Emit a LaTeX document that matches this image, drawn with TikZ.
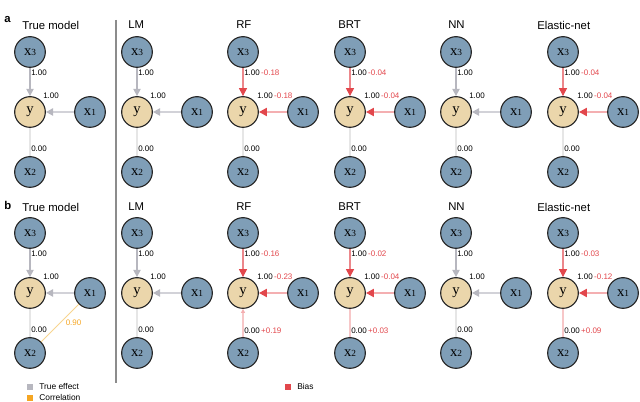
\documentclass[tikz,border=0pt]{standalone}
\usepackage{fontspec}
\setmainfont{Liberation Sans}
\newfontfamily\varfont{Liberation Serif}
\usetikzlibrary{arrows.meta}

\definecolor{varblue}{HTML}{7F9EB7}
\definecolor{respbeige}{HTML}{EBD6AB}
\definecolor{rimdark}{HTML}{262626}
\definecolor{effgrey}{HTML}{B7B7BF}
\definecolor{efflight}{HTML}{D2D2D8}
\definecolor{nullgrey}{HTML}{E6E6E6}
\definecolor{biasred}{HTML}{E2474C}
\definecolor{biaspink}{HTML}{F4AFB1}
\definecolor{corrorange}{HTML}{F5A623}
\definecolor{corrlight}{HTML}{F8D58F}
\definecolor{divgrey}{HTML}{8C8C8C}

\newcommand{\vsub}[1]{{\fontsize{7}{7}\selectfont #1}}

\tikzset{
  var/.style={circle, draw=rimdark, fill=varblue, line width=0.85pt,
    minimum size=23pt, inner sep=0pt, font=\varfont\fontsize{11}{11}\selectfont},
  resp/.style={var, fill=respbeige},
  paneltitle/.style={anchor=west, inner sep=0pt, font=\fontsize{8.5}{10}\selectfont},
  panelletter/.style={anchor=west, inner sep=0pt, font=\bfseries\fontsize{8.5}{10}\selectfont},
  coef/.style={anchor=west, inner sep=0pt, font=\fontsize{6}{7}\selectfont},
  legtext/.style={anchor=west, inner sep=0pt, font=\fontsize{6.3}{7}\selectfont},
  trueeff/.style={draw=effgrey, line width=1.1pt,
    -{Triangle[length=5.5pt,width=5.5pt,color=effgrey]}},
  truestrong/.style={draw=efflight, line width=1.8pt,
    -{Triangle[length=5.5pt,width=5.5pt,color=effgrey]}},
  nulleff/.style={draw=nullgrey, line width=0.8pt},
  biaseff/.style={draw=biasred!65, line width=0.8pt,
    -{Triangle[length=6pt,width=6pt,color=biasred]}},
  biasstrong/.style={draw=biaspink, line width=1.8pt,
    -{Triangle[length=6pt,width=6pt,color=biasred]}},
  biasweak/.style={draw=biaspink!70, line width=0.8pt},
}

\begin{document}
\begin{tikzpicture}[x=0.75pt,y=-0.75pt]
    % Pixel grid of the reference
    \useasboundingbox (0,0) rectangle (640,402);

    % Separator between true model and fitted models
    \coordinate (divtop) at (116,20);
    \coordinate (divbot) at (116,383);
    \draw[divgrey, line width=1.1pt] (divtop) -- (divbot);

    % Panel letters and titles
    \node[panelletter] (leta) at (4,20) {a};
    \node[panelletter] (letb) at (4,205) {b};
    \foreach \r/\Ty in {a/25, b/207} {
        \foreach \tx/\t in {22/True model, 128/LM, 236/RF, 338/BRT, 448/NN, 537/Elastic-net} {
            \node[paneltitle] (t\r\tx) at (\tx,\Ty) {\t};
        }
    }

    % Variables
    \foreach \r/\Y in {a/112, b/293} {
        \foreach \c/\cx in {1/30, 2/137, 3/243, 4/350, 5/456, 6/563} {
            \node[var]  (x3\r\c) at (\cx,\Y-60) {x\vsub{3}};
            \node[resp] (y\r\c)  at (\cx,\Y)    {y};
            \node[var]  (x1\r\c) at (\cx+60,\Y) {x\vsub{1}};
            \node[var]  (x2\r\c) at (\cx,\Y+60) {x\vsub{2}};
        }
    }

    % Unbiased panels
    \foreach \p in {a1, a2, a5, b1, b2, b5} {
        \draw[trueeff] (x3\p) -- (y\p);
        \draw[truestrong] (x1\p) -- (y\p);
        \draw[nulleff] (x2\p) -- (y\p);
        \node[coef] at ([shift={(1,-39)}]y\p) {1.00};
        \node[coef] at ([shift={(13,-16)}]y\p) {1.00};
        \node[coef] at ([shift={(1,37)}]y\p) {0.00};
    }

    % Biased panels
    \foreach \p/\ba/\bb in {a3/-0.18/-0.18, a4/-0.04/-0.04, a6/-0.04/-0.04,
                            b3/-0.16/-0.23, b4/-0.02/-0.04, b6/-0.03/-0.12} {
        \draw[biaseff] (x3\p) -- (y\p);
        \draw[biasstrong] (x1\p) -- (y\p);
        \node[coef] at ([shift={(1,-39)}]y\p) {1.00\,\textcolor{biasred}{\ba}};
        \node[coef] at ([shift={(14,-16)}]y\p) {1.00\,\textcolor{biasred}{\bb}};
    }
    \foreach \p in {a3, a4, a6} {
        \draw[nulleff] (x2\p) -- (y\p);
        \node[coef] at ([shift={(1,37)}]y\p) {0.00};
    }
    \draw[biasweak, -{Triangle[length=3pt,width=3pt,color=biaspink]}] (x2b3) -- (yb3);
    \draw[biasweak] (x2b4) -- (yb4);
    \draw[biasweak] (x2b6) -- (yb6);
    \foreach \p/\bc in {b3/+0.19, b4/+0.03, b6/+0.09} {
        \node[coef] at ([shift={(1,38)}]y\p) {0.00\,\textcolor{biasred}{\bc}};
    }

    % Correlation in the true model
    \draw[corrlight, line width=0.7pt] (x1b1) -- (x2b1)
        node[pos=0.5, right=4pt, inner sep=0pt, font=\fontsize{6}{7}\selectfont, text=corrorange] {0.90};

    % Legend
    \node[fill=effgrey, inner sep=0pt, minimum size=3.8pt] (kgrey) at (30,387) {};
    \node[legtext] at ([shift={(9,0)}]kgrey) {True effect};
    \node[fill=corrorange, inner sep=0pt, minimum size=3.8pt] (korange) at (30,398) {};
    \node[legtext] at ([shift={(9,0)}]korange) {Correlation};
    \node[fill=biasred, inner sep=0pt, minimum size=3.8pt] (kred) at (288,387) {};
    \node[legtext] at ([shift={(9,0)}]kred) {Bias};
\end{tikzpicture}
\end{document}
